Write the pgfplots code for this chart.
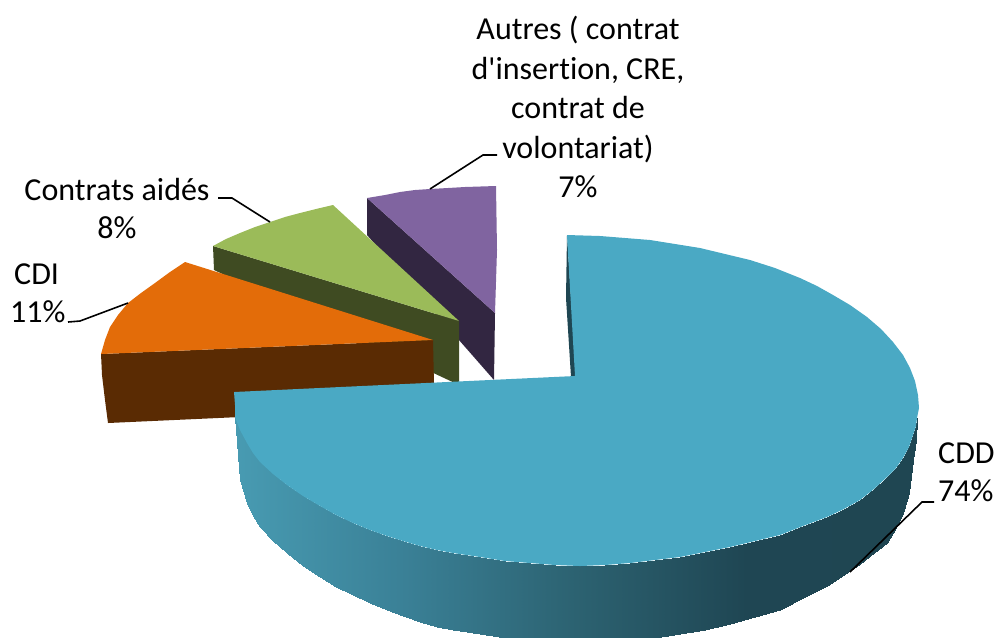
\documentclass[border=0pt]{standalone}
\usepackage{fontspec}
\setmainfont{Carlito}[Ligatures=NoCommon]
\usepackage{pgfplots}
\pgfplotsset{compat=1.18}
\definecolor{tealtop}{RGB}{74,169,196}
\definecolor{tealdark}{RGB}{31,70,82}
\definecolor{orangetop}{RGB}{227,108,9}
\definecolor{orangeside}{RGB}{90,43,3}
\definecolor{greentop}{RGB}{155,187,89}
\definecolor{greenside}{RGB}{63,75,34}
\definecolor{purpletop}{RGB}{128,100,160}
\definecolor{purpleside}{RGB}{50,38,65}
\begin{document}
\begin{tikzpicture}
\begin{axis}[
    scale only axis, width=997bp, height=637bp,
    xmin=0, xmax=997, ymin=0, ymax=637,
    y dir=reverse, axis line style={draw=none}, ticks=none, no marks,
    colormap={sidecdd}{rgb255=(72,155,178) rgb255=(58,128,150) rgb255=(44,98,113) rgb255=(31,70,83) rgb255=(31,70,82)},
]
% purple slice
\addplot[fill=purpleside, draw=none] coordinates {(367,198) (495,313) (494,380) (367,235)};
\addplot[fill=purpletop, draw=none] coordinates {(367,198) (385,195) (400,192) (415,190) (430,189) (448,188) (465,187) (496,186) (497,250) (495,313)};
% green slice
\addplot[fill=greenside, draw=none] coordinates {(213,246) (459,321) (459,385) (214,270)};
\addplot[fill=greentop, draw=none] coordinates {(333,205) (316,209) (300,213) (285,217) (270,222) (255,227) (240,233) (226,239) (213,246) (459,321)};
% orange slice
\addplot[fill=orangeside, draw=none] coordinates {(101,354) (433,340) (434,385) (240,417) (108,423) (105,400) (102,375)};
\addplot[fill=orangetop, draw=none] coordinates {(185,262) (170,272) (155,283) (141,293) (128,303) (118,315) (110,327) (105,340) (101,354) (433,340)};
% cdd inner sliver
\addplot[fill=tealdark, draw=none] coordinates {(567,235) (566,298) (571,377) (576,377)};
% cdd outer side
\addplot[surf, shader=interp, mesh/rows=2, mesh/cols=42, point meta=x] coordinates {
(235,417) (240,430) (247,443) (253,453) (260,462) (273,474) (287,485) (303,496) (320,506) (336,515) (353,523) (370,530) (387,536) (403,541) (420,546) (437,550) (453,553) (480,557) (505,561) (530,563) (555,565) (580,566) (605,565) (630,563) (655,560) (680,557) (705,552) (730,547) (755,541) (780,535) (803,526) (827,517) (844,509) (860,500) (874,489) (887,477) (896,468) (903,458) (909,447) (913,435) (916,426) (917,418)
(235,417) (240,480) (247,503) (253,516) (260,527) (273,541) (287,553) (303,566) (320,577) (336,587) (353,595) (370,603) (387,610) (403,616) (420,622) (437,627) (453,630) (480,634) (505,638) (530,640) (555,642) (580,643) (605,642) (630,641) (655,638) (680,634) (705,630) (730,624) (755,617) (780,610) (803,598) (827,586) (844,575) (860,564) (874,553) (887,543) (896,528) (903,513) (909,493) (913,460) (916,440) (917,418)
};
% cdd top
\addplot[fill=tealtop, draw=none] coordinates {
(575,376) (234,392) (235,405) (235,417) (240,430) (247,443) (253,453) (260,462) (273,474) (287,485) (303,496) (320,506) (336,515) (353,523) (370,530) (387,536) (403,541) (420,546) (437,550) (453,553) (480,557) (505,561) (530,563) (555,565) (580,566) (605,565) (630,563) (655,560) (680,557) (705,552) (730,547) (755,541) (780,535) (803,526) (827,517) (844,509) (860,500) (874,489) (887,477) (896,468) (903,458) (909,447) (913,435) (916,426) (917,418)
(919,408) (918,395) (915,381) (910,368) (903,355) (893,342) (881,329) (867,317) (850,305) (833,295) (817,286) (800,278) (775,268) (750,260) (725,254) (700,248) (675,244) (650,240) (625,238) (600,236) (567,235)};
% leader lines
\addplot[black, line width=1.6pt] coordinates {(497,155) (483,155) (430,189)};
\addplot[black, line width=1.6pt] coordinates {(218,198) (232,198) (270,222)};
\addplot[black, line width=1.6pt] coordinates {(68,322) (80,321) (128,303)};
\addplot[black, line width=1.6pt] coordinates {(934,502) (922,502) (850,572)};
% labels
\node[align=center, font=\fontsize{32bp}{39.5bp}\selectfont, inner sep=0pt] at (axis cs:578,107) {Autres ( contrat\\d\textquotesingle insertion, CRE,\\contrat de\\volontariat)\\7\%};
\node[align=center, font=\fontsize{32bp}{38bp}\selectfont, inner sep=0pt] at (axis cs:117,209) {Contrats aidés\\8\%};
\node[anchor=west, font=\fontsize{32bp}{38bp}\selectfont, inner sep=0pt] at (axis cs:14,274) {CDI};
\node[anchor=west, font=\fontsize{32bp}{38bp}\selectfont, inner sep=0pt] at (axis cs:10,312) {11\%};
\node[anchor=west, font=\fontsize{32bp}{38bp}\selectfont, inner sep=0pt] at (axis cs:938,453) {CDD};
\node[anchor=west, font=\fontsize{32bp}{38bp}\selectfont, inner sep=0pt] at (axis cs:938,491) {74\%};
\end{axis}
\end{tikzpicture}
\end{document}
